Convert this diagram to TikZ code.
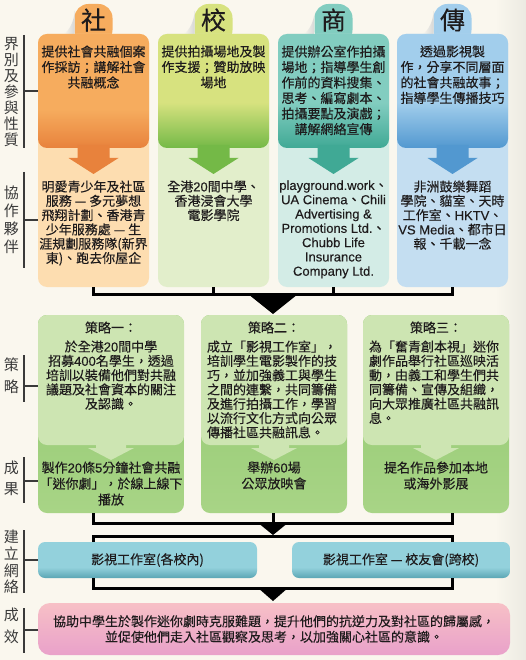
\documentclass[tikz,border=0pt]{standalone}
\usepackage{fontspec}
\setmainfont{Noto Sans CJK TC}[FakeBold=0.25]
\newfontfamily\lblf{Noto Sans CJK TC}
\newfontfamily\latf{Liberation Sans}[FakeBold=0.2]
\usetikzlibrary{calc}
\definecolor{bg}{HTML}{FAF7EE}
\definecolor{bgD}{HTML}{ECEAE2}
\definecolor{txt}{HTML}{1E1B1C}
\definecolor{lblc}{HTML}{3A3A3A}
\definecolor{orA}{HTML}{F6AC5E}
\definecolor{orB}{HTML}{E8823C}
\definecolor{orL}{HTML}{FDDDB0}
\definecolor{grA}{HTML}{D7E27F}
\definecolor{grB}{HTML}{74B947}
\definecolor{grL}{HTML}{E2EECB}
\definecolor{tlA}{HTML}{82CDC0}
\definecolor{tlB}{HTML}{40A995}
\definecolor{tlL}{HTML}{D3ECE6}
\definecolor{blA}{HTML}{A2CEEC}
\definecolor{blB}{HTML}{5298D0}
\definecolor{blL}{HTML}{C4DEF1}
\definecolor{sgL}{HTML}{CDE5B2}
\definecolor{sgA}{HTML}{90C86E}
\definecolor{sgB}{HTML}{A8D486}
\definecolor{nwA}{HTML}{93D1DC}
\definecolor{nwB}{HTML}{5AA6B4}
\definecolor{pkA}{HTML}{F7C0C6}
\definecolor{pkB}{HTML}{E9A1CA}
\pgfdeclareverticalshading{shOr}{100bp}{color(0bp)=(orB); color(25bp)=(orB); color(42bp)=(orA); color(100bp)=(orA)}
\pgfdeclareverticalshading{shGr}{100bp}{color(0bp)=(grB); color(25bp)=(grB); color(45bp)=(grA); color(100bp)=(grA)}
\pgfdeclareverticalshading{shTl}{100bp}{color(0bp)=(tlB); color(25bp)=(tlB); color(45bp)=(tlA); color(100bp)=(tlA)}
\pgfdeclareverticalshading{shBl}{100bp}{color(0bp)=(blB); color(25bp)=(blB); color(45bp)=(blA); color(100bp)=(blA)}
\pgfdeclareverticalshading{shNw}{100bp}{color(0bp)=(nwB); color(25bp)=(nwB); color(40bp)=(nwA); color(100bp)=(nwA)}
\newcommand\la[1]{{\latf #1}}
\newcommand\myarrow[2]{%
  \fill[#2] ($(#1.south)+(-16,-3)$) -- ($(#1.south)+(16,-3)$) -- ($(#1.south)+(16,10)$) -- ($(#1.south)+(25,10)$) -- ($(#1.south)+(0,26)$) -- ($(#1.south)+(-25,10)$) -- ($(#1.south)+(-16,10)$) -- cycle;}
\newcommand\sgarrow[1]{%
  \fill[sgL] ($(#1.south)+(-15,-4)$) -- ($(#1.south)+(15,-4)$) -- ($(#1.south)+(15,3)$) -- ($(#1.south)+(23,3)$) -- ($(#1.south)+(0,15)$) -- ($(#1.south)+(-23,3)$) -- ($(#1.south)+(-15,3)$) -- cycle;}
\newcommand\tabshadow[1]{%
  \shade[left color=bg,right color=black!16] ($(#1.north west)+(-11,30)$) .. controls ($(#1.north west)+(-5,27)$) and ($(#1.north west)+(0,16)$) .. ($(#1.north west)+(0,7)$) -- ($(#1.north west)+(0,30)$) -- cycle;}
\begin{document}
\begin{tikzpicture}[x=1pt,y=-1pt,
  every node/.style={inner sep=0pt,outer sep=0pt,text=txt},
  bx/.style={anchor=north west,rounded corners=9pt},
  tx/.style={align=center,font=\fontsize{13}{14.3}\selectfont},
  conn/.style={draw=black,line width=3pt},
  lb/.style={align=center,text=lblc},
  lline/.style={draw=lblc,line width=1.3pt},
  ltick/.style={draw=lblc,line width=2.4pt},
  tabbox/.style={anchor=north,minimum width=38pt,minimum height=40pt,rounded corners=14pt},
  tabtxt/.style={font=\fontsize{25}{25}\selectfont},
]
\useasboundingbox (0,0) rectangle (526,660);
\fill[bg] (0,0) rectangle (526,660);
\shade[left color=bg,right color=bgD] (495,0) rectangle (526,660);

% ---------- tabs ----------
\node[tabbox,fill=orA] (tab1) at (93.5,4) {};
\node[tabbox,fill=grA] (tab2) at (213.5,4) {};
\node[tabbox,fill=tlA] (tab3) at (333.5,4) {};
\node[tabbox,fill=blA] (tab4) at (452.5,4) {};
\tabshadow{tab1}\tabshadow{tab2}\tabshadow{tab3}\tabshadow{tab4}
\node[tabtxt] (tt1) at (93.5,20) {社};
\node[tabtxt] (tt2) at (213.5,20) {校};
\node[tabtxt] (tt3) at (333.5,20) {商};
\node[tabtxt] (tt4) at (452.5,20) {傳};

% ---------- columns ----------
\node[bx,fill=orL,minimum width=111pt,minimum height=253pt] (c1) at (38,34) {};
\node[bx,fill=grL,minimum width=111pt,minimum height=253pt] (c2) at (158,34) {};
\node[bx,fill=tlL,minimum width=111pt,minimum height=253pt] (c3) at (278,34) {};
\node[bx,fill=blL,minimum width=111pt,minimum height=253pt] (c4) at (397,34) {};
\node[bx,shade,shading=shOr,minimum width=111pt,minimum height=114pt] (d1) at (38,34) {};
\node[bx,shade,shading=shGr,minimum width=111pt,minimum height=114pt] (d2) at (158,34) {};
\node[bx,shade,shading=shTl,minimum width=111pt,minimum height=114pt] (d3) at (278,34) {};
\node[bx,shade,shading=shBl,minimum width=111pt,minimum height=114pt] (d4) at (397,34) {};
\myarrow{d1}{orB}\myarrow{d2}{grB}\myarrow{d3}{tlB}\myarrow{d4}{blB}

\node[tx,anchor=north,font=\fontsize{13}{15.5}\selectfont] (dt1) at (93.5,45.5)
  {提供社會共融個案\\作採訪；講解社會\\共融概念};
\node[tx,anchor=north,font=\fontsize{13}{15.5}\selectfont] (dt2) at (213.5,45.5)
  {提供拍攝場地及製\\作支援；贊助放映\\場地};
\node[tx,anchor=north,font=\fontsize{13}{15.5}\selectfont] (dt3) at (333.5,45.5)
  {提供辦公室作拍攝\\場地；指導學生創\\作前的資料搜集、\\思考、編寫劇本、\\拍攝要點及演戲；\\講解網絡宣傳};
\node[tx,anchor=north,font=\fontsize{13}{15.5}\selectfont] (dt4) at (452.5,45.5)
  {透過影視製\\作，分享不同層面\\的社會共融故事；\\指導學生傳播技巧};

\node[tx,anchor=north] (pt1) at (93.5,180.5)
  {明愛青少年及社區\\服務 — 多元夢想\\飛翔計劃、香港青\\少年服務處 — 生\\涯規劃服務隊(新界\\東)、跑去你屋企};
\node[tx,anchor=north] (pt2) at (213.5,180.5)
  {全港\la{20}間中學、\\香港浸會大學\\電影學院};
\node[tx,anchor=north] (pt3) at (333.5,180.5)
  {\la{playground.work}、\\\la{UA Cinema}、\la{Chili}\\\la{Advertising \&}\\\la{Promotions Ltd.}、\\\la{Chubb Life}\\\la{Insurance}\\\la{Company Ltd.}};
\node[tx,anchor=north] (pt4) at (452.5,180.5)
  {非洲鼓樂舞蹈\\學院、貓室、天時\\工作室、\la{HKTV}、\\\la{VS Media}、都市日\\報、千載一念};

% ---------- bracket 1 ----------
\coordinate (mid) at ($(c1.south)!0.5!(c4.south)$);
\draw[conn] (c1.south) -- ++(0,7) -| (c4.south);
\draw[conn] (c2.south) -- ++(0,7);
\draw[conn] (c3.south) -- ++(0,7);

% ---------- strategies ----------
\node[bx,top color=sgA,bottom color=sgB,minimum width=146pt,minimum height=198pt] (s1) at (38,315) {};
\node[bx,top color=sgA,bottom color=sgB,minimum width=146pt,minimum height=198pt] (s2) at (201,315) {};
\node[bx,top color=sgA,bottom color=sgB,minimum width=146pt,minimum height=198pt] (s3) at (363,315) {};
\node[bx,fill=sgL,minimum width=146pt,minimum height=130pt] (l1) at (38,315) {};
\node[bx,fill=sgL,minimum width=146pt,minimum height=130pt] (l2) at (201,315) {};
\node[bx,fill=sgL,minimum width=146pt,minimum height=130pt] (l3) at (363,315) {};
\sgarrow{l1}\sgarrow{l2}\sgarrow{l3}

\fill[black] ($(mid)+(-25,7)$) -- ($(mid)+(25,7)$) -- ($(s2.north -| mid)+(0,-1)$) -- cycle;

\node[tx,anchor=north] (h1) at (s1.north |- 0,321.5) {策略一：};
\node[tx,anchor=north] (h2) at (s2.north |- 0,321.5) {策略二：};
\node[tx,anchor=north] (h3) at (s3.north |- 0,321.5) {策略三：};
\node[tx,anchor=north] (st1) at (s1.north |- 0,340.5)
  {於全港\la{20}間中學\\招募\la{400}名學生，透過\\培訓以裝備他們對共融\\議題及社會資本的關注\\及認識。};
\node[tx,align=left,anchor=north west] (st2) at (207,340.5)
  {成立「影視工作室」，\\培訓學生電影製作的技\\巧，並加強義工與學生\\之間的連繫，共同籌備\\及進行拍攝工作，學習\\以流行文化方式向公眾\\傳播社區共融訊息。};
\node[tx,align=left,anchor=north west] (st3) at (369,340.5)
  {為「奮青創本視」迷你\\劇作品舉行社區巡映活\\動，由義工和學生們共\\同籌備、宣傳及組織，\\向大眾推廣社區共融訊\\息。};
\node[tx,anchor=north,font=\fontsize{13}{16}\selectfont] (rt1) at (s1.north |- 0,461.5)
  {製作\la{20}條\la{5}分鐘社會共融\\「迷你劇」，於線上線下\\播放};
\node[tx,anchor=north,font=\fontsize{13}{16}\selectfont] (rt2) at (s2.north |- 0,461.5)
  {舉辦\la{60}場\\公眾放映會};
\node[tx,anchor=north,font=\fontsize{13}{16}\selectfont] (rt3) at (s3.north |- 0,461.5)
  {提名作品參加本地\\或海外影展};

% ---------- bracket 2 ----------
\draw[conn] (s1.south -| c1.south) -- ++(0,10) -| (s3.south -| c4.south);
\draw[conn] (s2.south -| mid) -- ++(0,10);

% ---------- network ----------
\node[bx,rounded corners=7pt,shade,shading=shNw,minimum width=219pt,minimum height=36pt] (n1) at (38,542) {};
\node[bx,rounded corners=7pt,shade,shading=shNw,minimum width=218pt,minimum height=36pt] (n2) at (292,542) {};
\node[tx] (nt1) at (n1.center) {影視工作室(各校內)};
\node[tx] (nt2) at (n2.center) {影視工作室 — 校友會(跨校)};
\draw[conn] (n1.north -| c1.south) -- ++(0,-6) -| (n2.north -| c4.south);
\draw[conn] (n1.south -| c1.south) -- ++(0,10) -| (n2.south -| c4.south);
\coordinate (mid2) at (s2.south -| mid);
\fill[black] ($(mid2)+(-16,9)$) -- ($(mid2)+(16,9)$) -- ($(mid2)+(0,22)$) -- cycle;

% ---------- outcome ----------
\node[bx,rounded corners=12pt,top color=pkA,bottom color=pkB,minimum width=472pt,minimum height=52pt] (e1) at (38,603) {};
\node[tx,font=\fontsize{13}{15.5}\selectfont] (et1) at (e1.center)
  {協助中學生於製作迷你劇時克服難題，提升他們的抗逆力及對社區的歸屬感，\\並促使他們走入社區觀察及思考，以加強關心社區的意識。};
\coordinate (mid3) at (n1.south -| mid);
\fill[black] ($(mid3)+(-16,9)$) -- ($(mid3)+(16,9)$) -- ($(e1.north -| mid)+(0,-2)$) -- cycle;

% ---------- left labels ----------
\node[lb,font=\lblf\fontsize{15}{16}\selectfont] (L1) at (11.5,92) {界\\別\\及\\參\\與\\性\\質};
\node[lb,font=\lblf\fontsize{15}{18}\selectfont] (L2) at (11.5,219.5) {協\\作\\夥\\伴};
\node[lb,font=\lblf\fontsize{15}{22}\selectfont] (L3) at (11.5,376) {策\\略};
\node[lb,font=\lblf\fontsize{15}{21}\selectfont] (L4) at (11.5,478) {成\\果};
\node[lb,font=\lblf\fontsize{15}{16.7}\selectfont] (L5) at (11.5,562) {建\\立\\網\\絡};
\node[lb,font=\lblf\fontsize{15}{22}\selectfont] (L6) at (11.5,626) {成\\效};

\draw[lline] (24,35) -- (24,148);
\draw[lline] (24,172) -- (24,268);
\draw[lline] (24,355) -- (24,402);
\draw[lline] (24,457) -- (24,503);
\draw[lline] (24,530) -- (24,593);
\draw[lline] (24,608) -- (24,653);
\coordinate (k1) at (24,91);
\coordinate (k2) at (24,220);
\coordinate (k3) at (24,386);
\coordinate (k4) at (24,481);
\coordinate (k5) at (24,560);
\coordinate (k6) at (24,630);
\draw[ltick] (k1) -- (k1 -| d1.west);
\draw[ltick] (k2) -- (k2 -| c1.west);
\draw[ltick] (k3) -- (k3 -| s1.west);
\draw[ltick] (k4) -- (k4 -| s1.west);
\draw[ltick] (k5) -- (k5 -| n1.west);
\draw[ltick] (k6) -- (k6 -| e1.west);
\end{tikzpicture}
\end{document}
